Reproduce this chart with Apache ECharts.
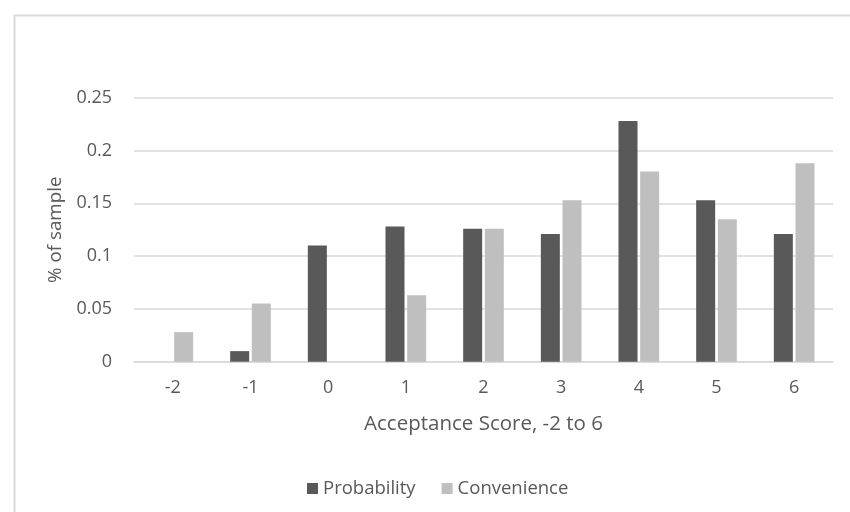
<!DOCTYPE html>
<html>
<head>
<meta charset="utf-8">
<script src="https://cdn.jsdelivr.net/npm/echarts@6/dist/echarts.min.js"></script>
<style>html,body{margin:0;padding:0;background:#fff;}#c{width:850px;height:512px;}</style>
</head>
<body>
<div id="c"></div>
<script>
const categories = ['-2', '-1', '0', '1', '2', '3', '4', '5', '6'];
const probability = [0, 0.010, 0.110, 0.128, 0.126, 0.121, 0.228, 0.153, 0.121];
const convenience = [0.028, 0.055, 0, 0.063, 0.126, 0.153, 0.180, 0.135, 0.188];
const yTicks = [0, 0.05, 0.1, 0.15, 0.2, 0.25];

const font = 'Open Sans';
const txt = '#595959';
const chart = echarts.init(document.getElementById('c'), null, {renderer: 'canvas'});
chart.setOption({
  animation: false,
  backgroundColor: '#fff',
  graphic: [{
    type: 'rect', left: 12, top: 13,
    shape: {width: 850, height: 510},
    style: {fill: 'none', stroke: '#D9D9D9', lineWidth: 2}
  }],
  grid: {left: 134, right: 17, top: 97.7, bottom: 150.3, containLabel: false},
  legend: {
    top: 474, left: 302,
    itemWidth: 11, itemHeight: 11, itemGap: 26,
    icon: 'rect',
    textStyle: {color: txt, fontFamily: font, fontSize: 18.5},
    data: ['Probability', 'Convenience']
  },
  xAxis: {
    type: 'category',
    data: categories,
    name: 'Acceptance Score, -2 to 6',
    nameLocation: 'middle',
    nameGap: 52,
    nameTextStyle: {color: txt, fontFamily: font, fontSize: 20.5},
    axisLine: {show: true, lineStyle: {color: '#D9D9D9', width: 1.5}},
    axisTick: {show: false},
    axisLabel: {color: txt, fontFamily: font, fontSize: 18, margin: 17}
  },
  yAxis: {
    type: 'value',
    min: 0, max: 0.25, interval: 0.05,
    name: '% of sample',
    nameLocation: 'middle',
    nameGap: 66,
    nameTextStyle: {color: txt, fontFamily: font, fontSize: 18.8},
    axisLine: {show: false},
    axisTick: {show: false},
    splitLine: {lineStyle: {color: '#D9D9D9', width: 1.5}},
    axisLabel: {
      color: txt, fontFamily: font, fontSize: 18, margin: 22,
      formatter: v => { const t = yTicks.find(x => Math.abs(x - v) < 1e-9); return String(t !== undefined ? t : v); }
    }
  },
  series: [
    {
      name: 'Probability', type: 'bar', data: probability,
      barWidth: 19, barGap: '14%',
      itemStyle: {color: '#595959'}
    },
    {
      name: 'Convenience', type: 'bar', data: convenience,
      barWidth: 19,
      itemStyle: {color: '#BFBFBF'}
    }
  ]
});
</script>
</body>
</html>
